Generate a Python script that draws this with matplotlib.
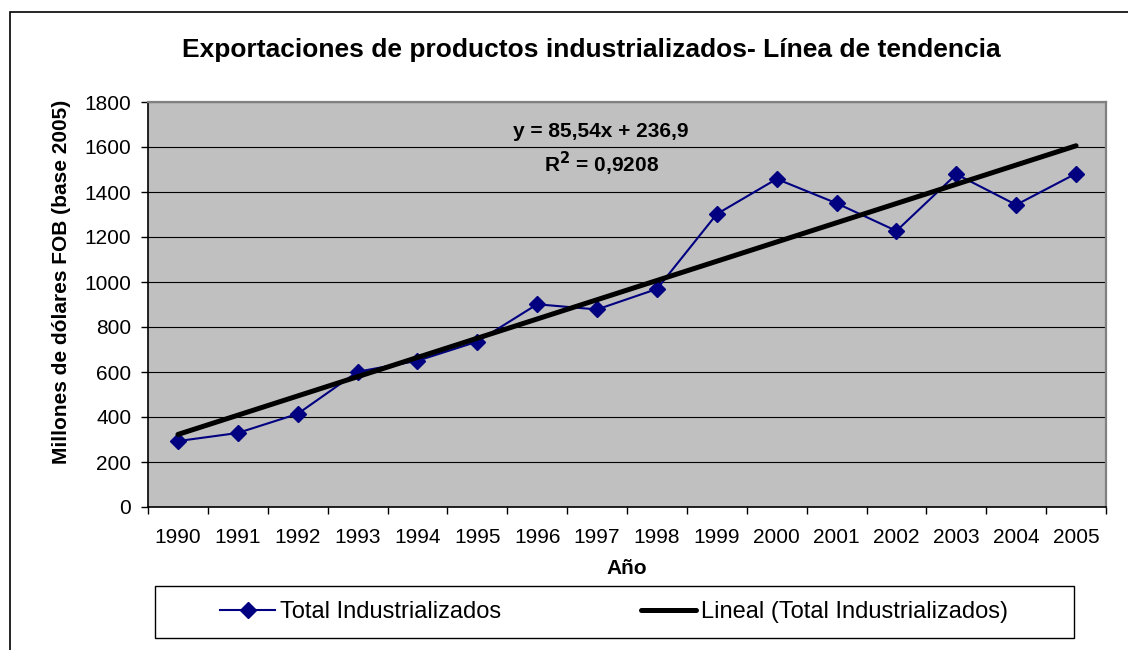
import numpy as np
import matplotlib.pyplot as plt
from matplotlib.patches import Rectangle

# datos
anios = ['1990', '1991', '1992', '1993', '1994', '1995', '1996', '1997',
         '1998', '1999', '2000', '2001', '2002', '2003', '2004', '2005']
total_ind = [293, 329, 414, 601, 650, 735, 901, 878,
             969, 1302, 1458, 1350, 1227, 1479, 1343, 1482]
pendiente = 85.54
ordenada = 236.9
r2_texto = '0,9208'

plt.rcParams['font.family'] = ['Liberation Sans', 'DejaVu Sans']

fig = plt.figure(figsize=(11.28, 6.5), dpi=100)
ax = fig.add_axes([148 / 1128, 143 / 650, 958 / 1128, 405 / 650])

x = np.arange(len(anios))
tend = pendiente * (x + 1) + ordenada

ax.set_facecolor('#C0C0C0')
ax.plot(x, total_ind, color='#000080', lw=1.5, marker='D', ms=8,
        label='Total Industrializados', zorder=3)
ax.plot(x, tend, color='black', lw=3.6, solid_capstyle='round',
        label='Lineal (Total Industrializados)', zorder=4)

ax.set_xlim(-0.5, len(anios) - 0.5)
ax.set_ylim(0, 1800)
ax.set_yticks(np.arange(0, 1801, 200))
ax.yaxis.grid(True, color='black', lw=0.8)
ax.set_axisbelow(True)

ax.set_xticks(x)
ax.set_xticklabels(anios)
ax.set_xticks(np.arange(-0.5, len(anios)), minor=True)
ax.tick_params(axis='x', which='major', length=0, pad=15, labelsize=15)
ax.tick_params(axis='x', which='minor', length=5, width=1, direction='out')
ax.tick_params(axis='y', length=5, width=1, labelsize=15, pad=7)

for s in ['top', 'right']:
    ax.spines[s].set_color('#808080')
    ax.spines[s].set_linewidth(1.6)
for s in ['left', 'bottom']:
    ax.spines[s].set_color('black')
    ax.spines[s].set_linewidth(1.2)

ax.set_xlabel('Año', fontsize=15, fontweight='bold', labelpad=9)
ax.set_ylabel('Millones de dólares FOB (base 2005)', fontsize=15,
              fontweight='bold', labelpad=10, y=0.556)

fig.text(591 / 1128, 1 - 50 / 650,
         'Exportaciones de productos industrializados- Línea de tendencia',
         ha='center', va='center', fontsize=19, fontweight='bold')

ax.text(0.473, 0.926, 'y = 85,54x + 236,9', transform=ax.transAxes,
        ha='center', va='center', fontsize=15, fontweight='bold')
ax.text(0.473, 0.846, r'R$^{\mathbf{2}}$ = ' + r2_texto, transform=ax.transAxes,
        ha='center', va='center', fontsize=15, fontweight='bold')

# marco exterior del gráfico
fig.patches.append(Rectangle((10 / 1128, -0.1), 1.2, 1 - 12 / 650 + 0.1,
                             transform=fig.transFigure, fill=False,
                             edgecolor='black', lw=1.2))

# leyenda
fig.patches.append(Rectangle((155 / 1128, 1 - 638 / 650), 919 / 1128, 52 / 650,
                             transform=fig.transFigure, fill=False,
                             edgecolor='black', lw=1))
h, l = ax.get_legend_handles_labels()
fig.legend(h, l, loc='center left', bbox_to_anchor=(220 / 1128, 1 - 612 / 650),
           ncol=2, frameon=False, fontsize=17, handlelength=2.35,
           handletextpad=0.2, columnspacing=5.9, borderpad=0, borderaxespad=0)

fig.savefig('out.png', dpi=100)
